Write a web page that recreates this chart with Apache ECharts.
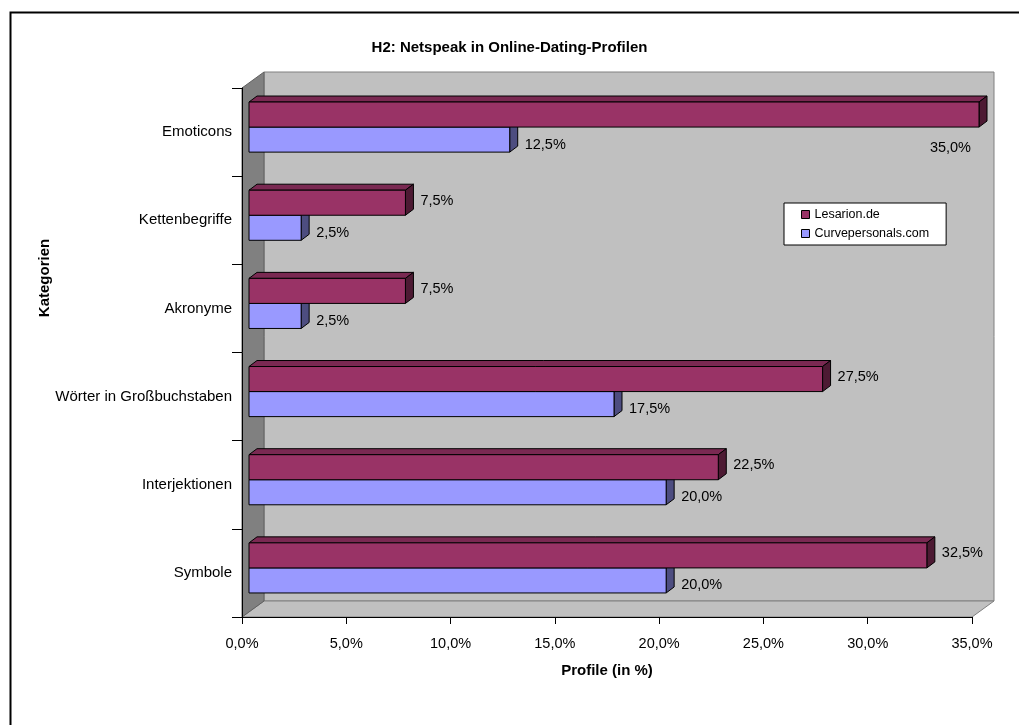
<!DOCTYPE html>
<html>
<head>
<meta charset="utf-8">
<script src="https://cdn.jsdelivr.net/npm/echarts@6/dist/echarts.min.js"></script>
<style>
html,body{margin:0;padding:0;background:#fff;}
#chart{width:1019px;height:725px;}
</style>
</head>
<body>
<div id="chart"></div>
<script>
const categories = ['Emoticons', 'Kettenbegriffe', 'Akronyme', 'Wörter in Großbuchstaben', 'Interjektionen', 'Symbole'];
const lesarion = [35.0, 7.5, 7.5, 27.5, 22.5, 32.5];
const curve = [12.5, 2.5, 2.5, 17.5, 20.0, 20.0];
const seriesNames = ['Lesarion.de', 'Curvepersonals.com'];
const xTicks = [0, 5, 10, 15, 20, 25, 30, 35];

const FONT = '"Liberation Sans", Arial, sans-serif';
const fmt = v => v.toFixed(1).replace('.', ',') + '%';

// 3D geometry constants
const WALL_DX = 22, WALL_DY = 16;
const BAR_DX = 7, BAR_DY = 5;
const DEPTH_DX = 8, DEPTH_DY = 6;

function makeBarRender(kind, front, top, side) {
  return function (params, api) {
    const v = api.value(0), c = api.value(1);
    const p = api.coord([v, c]);
    const p0 = api.coord([0, c]);
    const band = api.size([0, 1])[1];
    const h = band * 25 / 88;
    let yTop, yBot;
    if (kind === 0) { yTop = p[1] - band * 30 / 88; yBot = yTop + h; }
    else { yTop = p[1] - band * 5 / 88; yBot = yTop + h; }
    const xl = p0[0] + BAR_DX, xr = p[0] + BAR_DX;
    const children = [];
    if (kind === 0) {
      children.push({
        type: 'polygon',
        shape: { points: [[xl, yTop], [xr, yTop], [xr + DEPTH_DX, yTop - DEPTH_DY], [xl + DEPTH_DX, yTop - DEPTH_DY]] },
        style: { fill: top, stroke: '#000', lineWidth: 1 }
      });
    }
    children.push({
      type: 'polygon',
      shape: { points: [[xr, yTop], [xr + DEPTH_DX, yTop - DEPTH_DY], [xr + DEPTH_DX, yBot - DEPTH_DY], [xr, yBot]] },
      style: { fill: side, stroke: '#000', lineWidth: 1 }
    });
    children.push({
      type: 'rect',
      shape: { x: xl, y: yTop, width: xr - xl, height: yBot - yTop },
      style: { fill: front, stroke: '#000', lineWidth: 1 }
    });
    const label = fmt(v);
    const cy = (yTop + yBot) / 2 + (kind === 0 ? -2 : 5);
    let lx = xr + DEPTH_DX + 7, ly = cy, align = 'left';
    if (lx + 45 > api.getWidth()) {
      lx = xr - 8; ly = yBot + 21; align = 'right';
    }
    children.push({
      type: 'text',
      style: { text: label, x: lx, y: ly, fill: '#000', font: '14.5px ' + FONT, align: align, verticalAlign: 'middle' }
    });
    return { type: 'group', children: children };
  };
}

function wallsRender(params, api) {
  const cs = params.coordSys;
  const x = cs.x, y = cs.y, w = cs.width, h = cs.height;
  return {
    type: 'group',
    children: [
      { type: 'rect', shape: { x: x + WALL_DX, y: y - WALL_DY, width: w, height: h },
        style: { fill: '#c0c0c0', stroke: '#808080', lineWidth: 1 } },
      { type: 'polygon', shape: { points: [[x, y + h], [x + WALL_DX, y + h - WALL_DY], [x + w + WALL_DX, y + h - WALL_DY], [x + w, y + h]] },
        style: { fill: '#c0c0c0', stroke: '#808080', lineWidth: 1 } },
      { type: 'polygon', shape: { points: [[x, y], [x + WALL_DX, y - WALL_DY], [x + WALL_DX, y + h - WALL_DY], [x, y + h]] },
        style: { fill: '#808080', stroke: '#606060', lineWidth: 1 } }
    ]
  };
}

const chart = echarts.init(document.getElementById('chart'), null, { renderer: 'canvas' });
chart.setOption({
  animation: false,
  backgroundColor: '#fff',
  textStyle: { fontFamily: FONT },
  title: {
    text: 'H2: Netspeak in Online-Dating-Profilen',
    left: 'center', top: 35,
    textStyle: { fontSize: 15, fontWeight: 'bold', color: '#000', fontFamily: FONT }
  },
  graphic: [
    {
      type: 'rect', left: 8, top: 10, z: 100,
      shape: { x: 0, y: 0, width: 1100, height: 800 },
      style: { fill: 'none', stroke: '#000', lineWidth: 2 }
    },
    {
      type: 'text', x: 45, y: 278, rotation: Math.PI / 2, z: 100,
      style: { text: 'Kategorien', font: 'bold 15px ' + FONT, fill: '#000', align: 'center', verticalAlign: 'middle' }
    }
  ],
  legend: {
    orient: 'vertical',
    left: 784, top: 203,
    data: seriesNames,
    icon: 'rect',
    itemWidth: 8, itemHeight: 8, itemGap: 6, itemTextGap: 3,
    padding: [5, 17, 5, 17],
    backgroundColor: '#fff', borderColor: '#000', borderWidth: 1, borderRadius: 0,
    itemStyle: { borderColor: '#000', borderWidth: 1 },
    textStyle: { fontSize: 12.5, color: '#000', fontFamily: FONT, lineHeight: 13 },
    selectedMode: false, z: 20
  },
  grid: { left: 242, right: 47, top: 88, bottom: 108, containLabel: false },
  xAxis: {
    type: 'value', min: xTicks[0], max: xTicks[xTicks.length - 1], interval: 5, z: 10,
    axisLine: { show: true, lineStyle: { color: '#000', width: 1 } },
    axisTick: { show: true, length: 7, lineStyle: { color: '#000' } },
    splitLine: { show: false },
    axisLabel: { formatter: fmt, fontSize: 14.5, color: '#000', margin: 19, fontFamily: FONT },
    name: 'Profile (in %)', nameLocation: 'middle', nameGap: 46,
    nameTextStyle: { fontSize: 15, fontWeight: 'bold', color: '#000', fontFamily: FONT }
  },
  yAxis: {
    type: 'category', data: categories, inverse: true, z: 10,
    axisLine: { show: true, lineStyle: { color: '#000', width: 1 } },
    axisTick: { show: true, length: 10, alignWithLabel: false, lineStyle: { color: '#000' } },
    splitLine: { show: false },
    axisLabel: { fontSize: 15, color: '#000', margin: 10, fontFamily: FONT }
  },
  series: [
    { type: 'custom', name: '_walls', silent: true, renderItem: wallsRender, data: [[0, 0]], z: 1 },
    { type: 'custom', name: seriesNames[1], renderItem: makeBarRender(1, '#9999ff', '#7a7acc', '#4d4d80'),
      itemStyle: { color: '#9999ff' }, encode: { x: 0, y: 1 },
      data: curve.map((v, i) => [v, i]), z: 2 },
    { type: 'custom', name: seriesNames[0], renderItem: makeBarRender(0, '#993366', '#7a2952', '#4d1a33'),
      itemStyle: { color: '#993366' }, encode: { x: 0, y: 1 },
      data: lesarion.map((v, i) => [v, i]), z: 3 }
  ]
});
</script>
</body>
</html>
